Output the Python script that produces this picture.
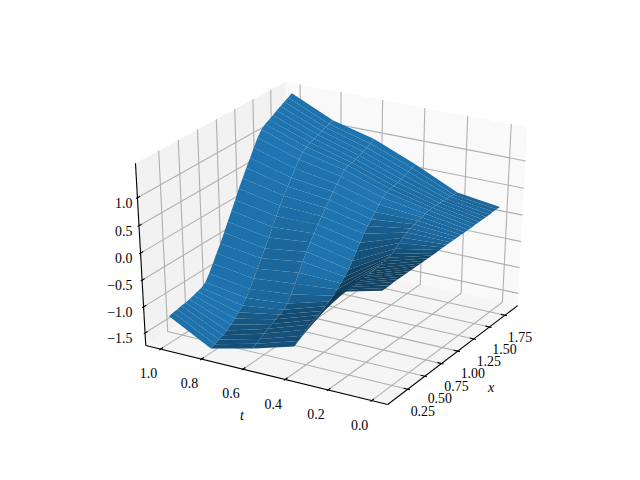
import numpy as np, pandas as pd, altair as alt

xticks=[.25,.5,.75,1,1.25,1.5,1.75]
tticks=[0,.2,.4,.6,.8,1]
zticks=[-1.5,-1,-.5,0,.5,1]
x_grid=[.09,.145,.199,.254,.309,.363,.418,.473,.528,.582,.637,.692,.746,.801,.856,.91,.965,1.02,1.074,1.129,1.184,1.238,1.293,1.348,1.403,1.457,1.512,1.567,1.621,1.676,1.731,1.785,1.84]
t_grid=[0,.2,.4,.6,.8,1]
u_t00=[.15,.15,.15,.16,.16,.16,.16,.16,.16,.16,.16,.16,.16,.16,.16,.17,.17,.17,.17,.17,.17,.17,.17,.17,.17,.18,.18,.18,.18,.18,.19,.19,.19]
u_t02=[-.05,-.06,-.06,-.07,-.08,-.09,-.09,-.10,-.11,-.11,-.10,-.08,-.07,-.05,-.03,.02,.08,.13,.18,.21,.24,.26,.28,.30,.32,.32,.32,.32,.32,.31,.31,.30,.30]
u_t04=[-1.24,-1.19,-1.14,-1.08,-1.03,-.99,-.96,-.93,-.89,-.85,-.79,-.72,-.65,-.58,-.49,-.38,-.25,-.13,-.01,.09,.17,.26,.35,.43,.49,.51,.52,.54,.56,.58,.61,.64,.66]
u_t06=[-1.47,-1.43,-1.39,-1.34,-1.30,-1.26,-1.22,-1.18,-1.14,-1.07,-.94,-.79,-.63,-.47,-.33,-.20,-.08,.04,.15,.26,.36,.47,.57,.67,.74,.78,.79,.81,.84,.87,.90,.94,.98]
u_t08=[-1.66,-1.63,-1.59,-1.56,-1.52,-1.46,-1.39,-1.32,-1.24,-1.14,-1.02,-.87,-.73,-.58,-.44,-.28,-.13,.03,.18,.32,.45,.57,.70,.82,.92,.97,1.01,1.04,1.07,1.10,1.13,1.15,1.18]
u_t10=[-1.23,-1.21,-1.20,-1.18,-1.17,-1.15,-1.13,-1.10,-1.08,-1.02,-.90,-.76,-.61,-.47,-.31,-.15,.01,.17,.34,.49,.64,.78,.93,1.07,1.18,1.24,1.28,1.32,1.37,1.41,1.45,1.49,1.53]
Z=np.array([u_t00,u_t02,u_t04,u_t06,u_t08,u_t10])
xlim=(0,1.92); ylim=(-.05,1.05); zlim=(-1.673,1.54)

az=np.radians(210); el=np.radians(30)
W=np.array([np.cos(el)*np.cos(az),np.cos(el)*np.sin(az),np.sin(el)])
U=np.cross([0,0,1.],W); U/=np.linalg.norm(U); Vv=np.cross(W,U)
def cube(x,y,z):
    return np.array([(x-xlim[0])/(xlim[1]-xlim[0]),(y-ylim[0])/(ylim[1]-ylim[0]),(z-zlim[0])/(zlim[1]-zlim[0])])
def proj(x,y,z):
    q=cube(x,y,z)-(0.5+10*W)
    sx=U@q/(-(W@q)); sy=Vv@q/(-(W@q))
    return 80+(sx+0.095)*496/0.185, 427.2-(sy+0.095)*369.6/0.185
def depth(x,y,z):
    return W@(cube(x,y,z)-0.5)
rx=(xlim[1]-xlim[0])/48; ry=(ylim[1]-ylim[0])/48; rz=(zlim[1]-zlim[0])/48
x0,x1=xlim[0]-rx,xlim[1]+rx;y0,y1=ylim[0]-ry,ylim[1]+ry;z0,z1=zlim[0]-rz,zlim[1]+rz
def rows_of(id,pts,c):
    r=[]
    for i,P in enumerate(pts):
        a,b=proj(*P); r.append(dict(id=id,i=i,px=a,py=b,c=c))
    return r
pane=[];grid=[];ax=[];surf=[]
pane+=rows_of('a',[(x1,y0,z0),(x1,y1,z0),(x1,y1,z1),(x1,y0,z1)],'#f9f9f9')
pane+=rows_of('b',[(x0,y1,z0),(x1,y1,z0),(x1,y1,z1),(x0,y1,z1)],'#f2f2f2')
pane+=rows_of('c',[(x0,y0,z0),(x1,y0,z0),(x1,y1,z0),(x0,y1,z0)],'#f5f5f5')
for v in xticks: grid+=rows_of(f'x{v}',[(v,y0,z0),(v,y1,z0),(v,y1,z1)],'#b0b0b0')
for v in tticks: grid+=rows_of(f't{v}',[(x0,v,z0),(x1,v,z0),(x1,v,z1)],'#b0b0b0')
for v in zticks: grid+=rows_of(f'z{v}',[(x0,y1,v),(x1,y1,v),(x1,y0,v)],'#b0b0b0')
ax+=rows_of('X',[(x0,y0,z0),(x1,y0,z0)],'k')+rows_of('T',[(x0,y0,z0),(x0,y1,z0)],'k')+rows_of('Z',[(x0,y1,z0),(x0,y1,z1)],'k')
dy=(y1-y0)/12;dx=(x1-x0)/12
for v in xticks: ax+=rows_of(f'xt{v}',[(v,y0-.1*dy,z0),(v,y0+.2*dy,z0)],'k')
for v in tticks: ax+=rows_of(f'tt{v}',[(x0-.1*dx,v,z0),(x0+.2*dx,v,z0)],'k')
for v in zticks: ax+=rows_of(f'zt{v}',[(x0-.1*dx,y1,v),(x0+.2*dx,y1,v)],'k')
al=np.radians(19.4712)
light=np.array([np.cos(np.radians(225))*np.cos(al),np.sin(np.radians(225))*np.cos(al),np.sin(al)])
polys=[]
for i in range(len(t_grid)-1):
    for j in range(len(x_grid)-1):
        P=[(x_grid[j],t_grid[i],Z[i,j]),(x_grid[j+1],t_grid[i],Z[i,j+1]),(x_grid[j+1],t_grid[i+1],Z[i+1,j+1]),(x_grid[j],t_grid[i+1],Z[i+1,j])]
        a=np.array(P)
        n=np.cross(a[2]-a[0],a[3]-a[1]); n=n/np.linalg.norm(n)
        if n[2]<0:n=-n
        f=0.3+0.7*(n@light+1)/2
        col='#%02x%02x%02x'%tuple(int(round(c*f)) for c in (31,119,180))
        polys.append((np.mean([depth(*p) for p in P]),P,col))
polys.sort(key=lambda q:q[0])
for k,(d,P,col) in enumerate(polys):
    surf+=rows_of(f'p{k:04d}',P,col)
txt=[];itxt=[];rtxt=[]
def lab(dst,s,P,ox,oy):
    a,b=proj(*P); dst.append(dict(s=s,px=a+ox,py=b+oy))
for v in xticks: lab(txt,f"{v:.2f}",(v,y0,z0),15,23)
for v in tticks: lab(txt,f"{v:.1f}",(x0,v,z0),-12,25)
zright=proj(x0,y1,1.0)[0]-5
for v in zticks:
    a,b=proj(x0,y1,v); rtxt.append(dict(s=f"{v:.1f}".replace('-','\u2212'),px=zright,py=b+6))
lab(itxt,'t',(x0,.5,z0),-22,42)
lab(itxt,'x',(.96,y0,z0),36,35)
xs=alt.X('px:Q',scale=alt.Scale(domain=[8,632]),axis=None); ys=alt.Y('py:Q',scale=alt.Scale(domain=[472,8]),axis=None)
def filled(r):
    return alt.Chart(pd.DataFrame(r)).mark_line(strokeWidth=0,interpolate='linear-closed').encode(x=xs,y=ys,detail='id:N',order='i:Q',fill=alt.Fill('c:N',scale=None),stroke=alt.value(None))
def stroked(r,c):
    return alt.Chart(pd.DataFrame(r)).mark_line(strokeWidth=1.11,color=c).encode(x=xs,y=ys,detail='id:N',order='i:Q')
def text(r,align='center',style='normal',size=13.9):
    return alt.Chart(pd.DataFrame(r)).mark_text(font='Liberation Serif',fontSize=size,align=align,baseline='middle',fontStyle=style).encode(x=xs,y=ys,text='s:N')
chart=alt.layer(filled(pane),stroked(grid,'#b0b0b0'),stroked(ax,'black'),filled(surf),text(txt),text(rtxt,'right'),text(itxt,'center','italic',14)).properties(width=624,height=464,padding=0).configure_view(stroke=None)
chart.save("out.html",embed_options={"renderer":"svg","actions":False})
